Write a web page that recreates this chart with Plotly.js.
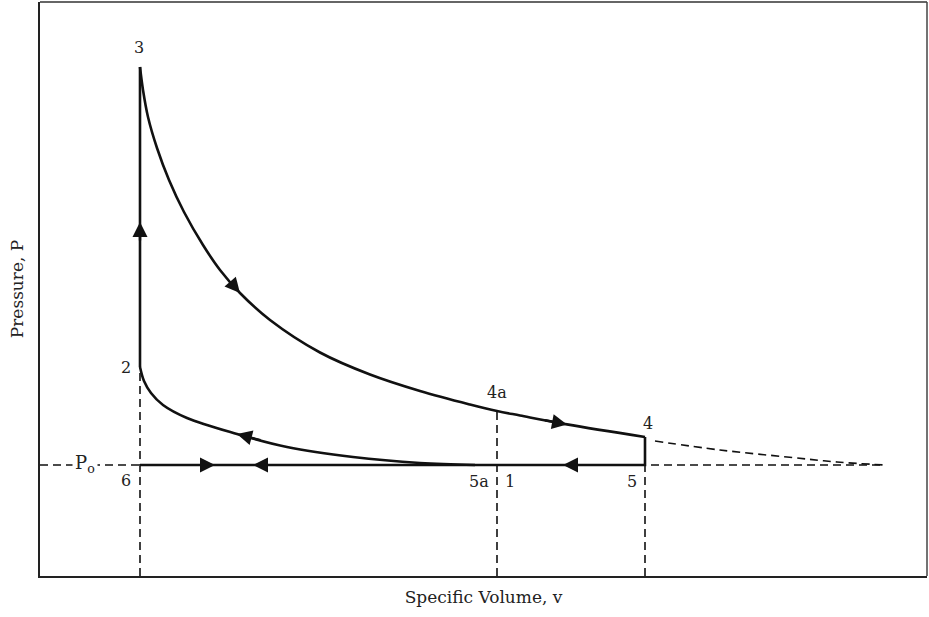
<!DOCTYPE html>
<html>
<head>
<meta charset="utf-8">
<script src="https://cdn.plot.ly/plotly-3.0.1.min.js"></script>
<style>html,body{margin:0;padding:0;background:#fff;}#chart{width:929px;height:617px;}</style>
</head>
<body>
<div id="chart"></div>
<script>
// ---- Data (arbitrary units) ----
const stateNames = ['1', '2', '3', '4', '4a', '5', '5a', '6'];
const stateV = [4.57, 1.00, 1.00, 6.05, 4.57, 6.05, 4.57, 1.00];
const stateP = [1.11, 2.09, 5.09, 1.39, 1.65, 1.11, 1.11, 1.11];

const P0 = 1.11;          // ambient pressure Po
const vP0End = 8.45;      // end of dashed Po line

// Expansion 3 -> 4
const expV = [1.00, 1.03, 1.08, 1.17, 1.29, 1.44, 1.63, 1.80, 2.00, 2.30, 2.80, 3.30, 3.80, 4.30, 4.57, 4.80, 5.27, 6.05];
const expP = [5.09, 4.86, 4.59, 4.28, 3.96, 3.64, 3.31, 3.06, 2.83, 2.56, 2.235, 2.015, 1.85, 1.715, 1.65, 1.605, 1.516, 1.39];

// Compression 5a/1 -> 2
const cmpV = [4.35, 3.80, 3.13, 2.47, 1.97, 1.47, 1.23, 1.11, 1.04, 1.00];
const cmpP = [1.11, 1.13, 1.19, 1.29, 1.42, 1.58, 1.71, 1.83, 1.95, 2.09];

// Continued (unconstrained) expansion beyond 4, dashed
const extV = [6.15, 6.80, 7.47, 7.97, 8.45];
const extP = [1.35, 1.26, 1.19, 1.14, 1.11];

// Direction arrows: index of head point on each curve
const arrowOnExp = [8, 16];
const arrowOnCmp = [4];
// Horizontal arrows on the Po line: head v and direction (+1 right, -1 left)
const arrowPoV = [1.75, 2.13, 5.23];
const arrowPoDir = [1, -1, -1];
// Arrow on 2 -> 3
const arrow23P = 3.54;

// ---- helpers ----
function S(name) { const i = stateNames.indexOf(name); return [stateV[i], stateP[i]]; }
const black = '#111';
const solid = {color: black, width: 2.6};
const dashed = {color: black, width: 1.6, dash: '8px,5px'};

const [v1, p1] = S('1'), [v2, p2] = S('2'), [v3, p3] = S('3'), [v4, p4] = S('4');
const [v4a, p4a] = S('4a'), [v5, p5] = S('5'), [v6, p6] = S('6');

const traces = [
  {x: [0, vP0End], y: [P0, P0], mode: 'lines', line: dashed, hoverinfo: 'skip'},
  {x: [v2, v2, null, v4a, v4a, null, v5, v5], y: [0, p2, null, 0, p4a, null, 0, p5],
   mode: 'lines', line: dashed, hoverinfo: 'skip'},
  {x: extV, y: extP, mode: 'lines', line: Object.assign({shape: 'spline'}, dashed), hoverinfo: 'skip'},
  {x: [v2, v3], y: [p2, p3], mode: 'lines', line: solid, hoverinfo: 'skip'},
  {x: expV, y: expP, mode: 'lines', line: Object.assign({shape: 'spline', smoothing: 1}, solid), hoverinfo: 'skip'},
  {x: [v4, v5, v6], y: [p4, p5, p6], mode: 'lines', line: solid, hoverinfo: 'skip'},
  {x: cmpV, y: cmpP, mode: 'lines', line: Object.assign({shape: 'spline', smoothing: 1}, solid), hoverinfo: 'skip'}
];

const serif = 'DejaVu Serif, Liberation Serif, serif';
const lblFont = {family: serif, size: 16, color: '#222'};
function label(text, x, y, xs, ys, extra) {
  return Object.assign({text: text, x: x, y: y, xref: 'x', yref: 'y', showarrow: false,
    xshift: xs, yshift: ys, font: lblFont}, extra || {});
}
const annotations = [
  label('3', v3, p3, -1, 20),
  label('2', v2, p2, -14, 0),
  label('6', v6, p6, -14, -15),
  label('P<sub>o</sub>', 0.45, P0, 0, 1, {bgcolor: '#fff', borderpad: 2, font: {family: serif, size: 18, color: '#222'}}),
  label('4a', v4a, p4a, 0, 19),
  label('4', v4, p4, 3, 14),
  label('5a', v1, P0, -18, -16),
  label('1', v1, P0, 13, -16),
  label('5', v5, P0, -13, -16)
];

function arrow(xh, yh, xt, yt) {
  return {x: xh, y: yh, ax: xt, ay: yt, xref: 'x', yref: 'y', axref: 'x', ayref: 'y',
    showarrow: true, arrowhead: 2, arrowsize: 1.25, arrowwidth: 2.4, arrowcolor: black,
    standoff: 0, startstandoff: 0, text: ''};
}
arrowOnExp.forEach(i => {
  const tx = expV[i] - 0.5 * (expV[i] - expV[i - 1]);
  const ty = expP[i] - 0.5 * (expP[i] - expP[i - 1]);
  annotations.push(arrow(expV[i], expP[i], tx, ty));
});
arrowOnCmp.forEach(i => {
  const tx = cmpV[i] - 0.5 * (cmpV[i] - cmpV[i - 1]);
  const ty = cmpP[i] - 0.5 * (cmpP[i] - cmpP[i - 1]);
  annotations.push(arrow(cmpV[i], cmpP[i], tx, ty));
});
arrowPoV.forEach((v, i) => {
  annotations.push(arrow(v, P0, v - 0.12 * arrowPoDir[i], P0));
});
annotations.push(arrow(v2, arrow23P, v2, arrow23P - 0.2));

const axisTitleFont = {family: serif, size: 17, color: '#222'};
const layout = {
  width: 929, height: 617,
  margin: {l: 40, r: 2, t: 2, b: 41},
  paper_bgcolor: '#fff', plot_bgcolor: '#fff',
  showlegend: false,
  xaxis: {range: [0, 8.87], showgrid: false, zeroline: false, showticklabels: false, ticks: '',
    showline: true, linecolor: '#222', linewidth: 2,
    title: {text: 'Specific Volume, v', font: axisTitleFont, standoff: 14}, automargin: false},
  yaxis: {range: [0, 5.74], showgrid: false, zeroline: false, showticklabels: false, ticks: '',
    showline: true, linecolor: '#222', linewidth: 2,
    title: {text: 'Pressure, P', font: axisTitleFont, standoff: 10}, automargin: false},
  shapes: [
    {type: 'line', xref: 'paper', yref: 'paper', x0: 0, x1: 1, y0: 1, y1: 1, line: {color: '#666', width: 2}},
    {type: 'line', xref: 'paper', yref: 'paper', x0: 1, x1: 1, y0: 0, y1: 1, line: {color: '#444', width: 1.5}}
  ],
  annotations: annotations
};

Plotly.newPlot('chart', traces, layout, {displayModeBar: false, staticPlot: true});
</script>
</body>
</html>
